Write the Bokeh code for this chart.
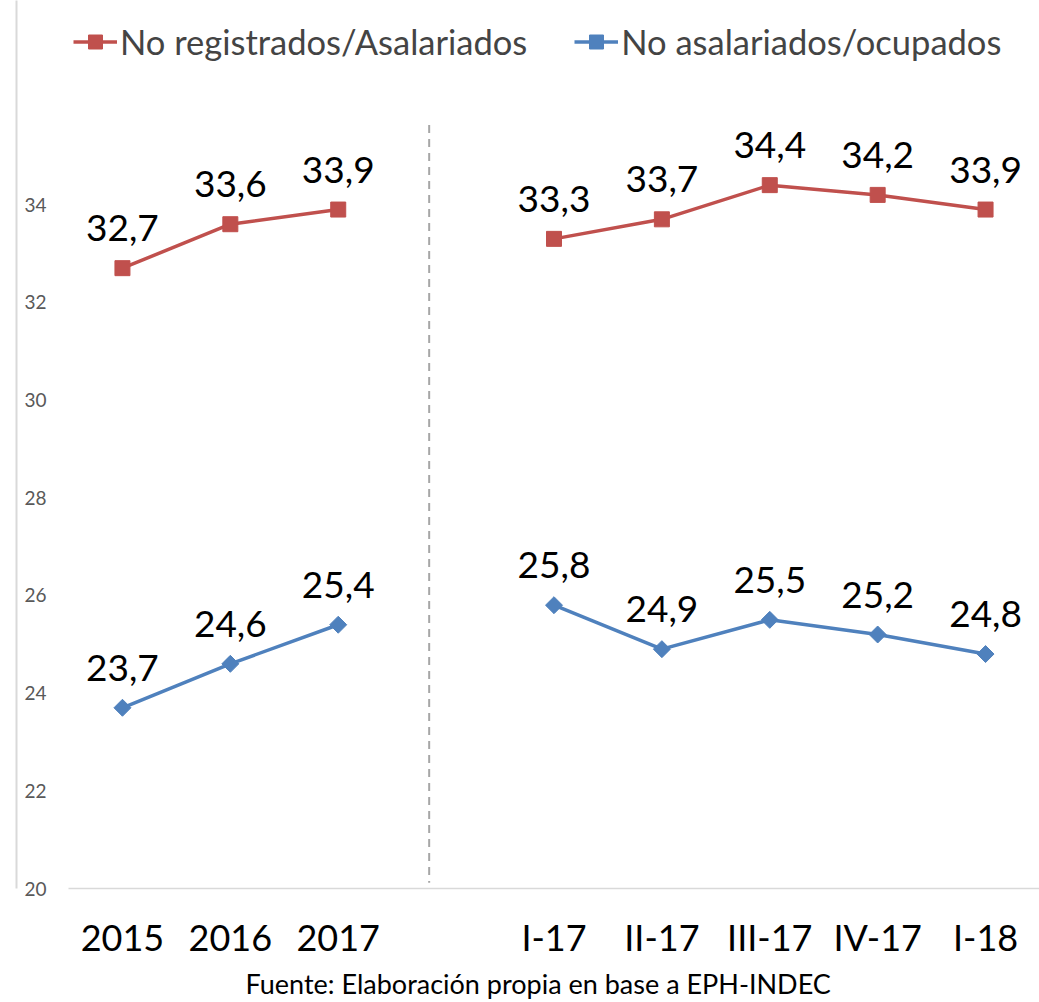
import math
from bokeh.plotting import figure
from bokeh.models import (ColumnDataSource, FixedTicker, LinearAxis, Range1d,
                          Legend, LegendItem, Title)
from bokeh.embed import file_html
from bokeh.resources import INLINE
from bokeh.core.properties import value

# ---- data ----
periods = ["2015", "2016", "2017", "I-17", "II-17", "III-17", "IV-17", "I-18"]
period_slot = [0, 1, 2, 4, 5, 6, 7, 8]          # slot 3 is the empty separator slot
no_registrados_asalariados = [32.7, 33.6, 33.9, 33.3, 33.7, 34.4, 34.2, 33.9]
no_asalariados_ocupados = [23.7, 24.6, 25.4, 25.8, 24.9, 25.5, 25.2, 24.8]
y_ticks = [20, 22, 24, 26, 28, 30, 32, 34]
separator_slot = 2.843
separator_top = 35.63
separator_bottom = 20.12
footer = "Fuente: Elaboración propia en base a EPH-INDEC"

RED = "#C0504D"
BLUE = "#4F81BD"
FONT = "Lato"


def with_gap(xs, ys):
    ox, oy = [], []
    for i, (x, y) in enumerate(zip(xs, ys)):
        if i > 0 and x - xs[i - 1] > 1:
            ox.append(float("nan"))
            oy.append(float("nan"))
        ox.append(x)
        oy.append(y)
    return ox, oy


def fmt(v):
    return f"{v:.1f}".replace(".", ",")


W, H = 1039, 1002
p = figure(width=W, height=H, output_backend="svg", toolbar_location=None,
           x_range=Range1d(-0.5, 8.5), y_range=Range1d(20, 38.18),
           min_border_left=68, min_border_right=0, min_border_top=0,
           min_border_bottom=111)
p.outline_line_color = None
p.grid.visible = False
p.background_fill_color = "white"
p.border_fill_color = "white"

# x axis
xa = p.xaxis[0]
xa.ticker = FixedTicker(ticks=period_slot)
xa.major_label_overrides = {s: lab for s, lab in zip(period_slot, periods)}
xa.axis_line_color = "#D9D9D9"
xa.axis_line_width = 1.5
xa.major_tick_line_color = None
xa.minor_tick_line_color = None
xa.major_label_text_font = FONT
xa.major_label_text_font_size = "36px"
xa.major_label_text_color = "black"
xa.major_label_standoff = 20

# y axis
ya = p.yaxis[0]
ya.ticker = FixedTicker(ticks=y_ticks)
ya.axis_line_color = None
ya.major_tick_line_color = None
ya.minor_tick_line_color = None
ya.major_label_text_font = FONT
ya.major_label_text_font_size = "19px"
ya.major_label_text_color = "#595959"
ya.major_label_standoff = 16
ya.axis_label = " "
ya.axis_label_text_font_size = "2px"
ya.axis_label_standoff = 0

# chart-area border on the left
border_axis = LinearAxis(ticker=FixedTicker(ticks=[]), axis_line_color="#D9D9D9",
                         axis_line_width=2, major_tick_line_color=None,
                         minor_tick_line_color=None,
                         major_label_text_font_size="0px")
p.add_layout(border_axis, "left")

# separator
p.segment(x0=[separator_slot], y0=[separator_top], x1=[separator_slot],
          y1=[separator_bottom], line_color="#A6A6A6", line_width=2,
          line_dash="8 6")

renderers = []
for vals, color, marker, size, angle in [
        (no_registrados_asalariados, RED, "square", 15, 0.0),
        (no_asalariados_ocupados, BLUE, "square", 12, math.pi / 4)]:
    gx, gy = with_gap(period_slot, vals)
    ln = p.line(gx, gy, line_color=color, line_width=3.5)
    src = ColumnDataSource(dict(x=period_slot, y=vals, t=[fmt(v) for v in vals]))
    sc = p.scatter("x", "y", source=src, marker=marker, size=size, angle=angle,
                   fill_color=color, line_color=color)
    p.text("x", "y", text="t", source=src, text_align="center",
           text_baseline="middle", y_offset=-40, text_font=value(FONT),
           text_font_size="37px", text_color="black")
    renderers.append((ln, sc))

legend = Legend(items=[
    LegendItem(label="No registrados/Asalariados", renderers=list(renderers[0])),
    LegendItem(label="No asalariados/ocupados", renderers=list(renderers[1]))],
    orientation="horizontal", location=(5, 826),
    label_text_font=FONT, label_text_font_size="34.5px",
    glyph_width=44, glyph_height=35, label_standoff=3, spacing=47,
    padding=0, margin=0, border_line_color=None, background_fill_alpha=0)
p.add_layout(legend, "center")

p.add_layout(Title(text=footer, align="left", offset=177, standoff=6,
                   text_font=FONT, text_font_size="27px",
                   text_font_style="normal", text_color="black"), "below")

open("out.html", "w").write(file_html(p, INLINE))
